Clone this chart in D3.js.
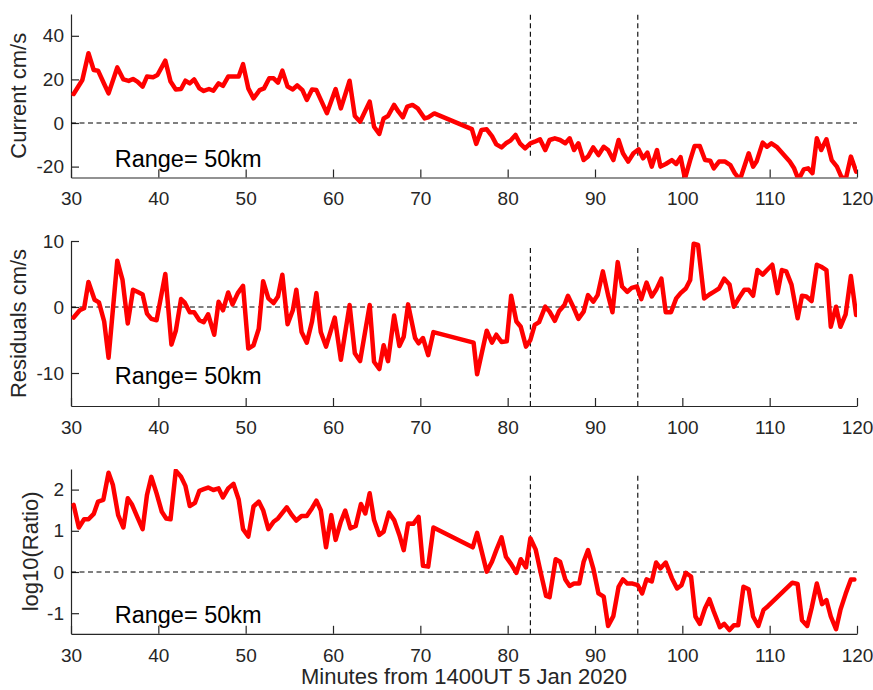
<!DOCTYPE html>
<html>
<head>
<meta charset="utf-8">
<script src="https://cdn.jsdelivr.net/npm/d3@7"></script>
<style>
body { margin: 0; background: #fff; }
svg { display: block; }
</style>
</head>
<body>
<div id="chart"></div>
<script>
// minutes after 1400UT
var curTime = [30.3, 31.3, 32.0, 32.6, 33.1, 33.8, 34.3, 35.3, 36.0, 36.6,
	37.1, 37.6, 38.2, 38.7, 39.4, 39.9, 40.8, 41.4, 42.0, 42.6,
	43.1, 43.6, 44.1, 44.7, 45.2, 45.8, 46.3, 46.9, 47.4, 48.0,
	48.6, 49.2, 49.7, 50.3, 50.9, 51.6, 52.1, 52.7, 53.2, 53.7,
	54.2, 54.8, 55.4, 55.9, 56.5, 57.0, 57.6, 58.1, 58.7, 59.3,
	60.3, 60.9, 61.9, 62.5, 63.1, 64.2, 64.7, 65.3, 65.8, 66.3,
	67.0, 67.5, 68.0, 68.5, 69.1, 69.7, 70.5, 70.9, 71.6, 75.9,
	76.4, 77.0, 77.6, 78.2, 78.7, 79.3, 79.8, 80.3, 80.9, 81.4,
	82.0, 82.6, 83.1, 83.7, 84.3, 84.8, 85.4, 86.0, 86.6, 87.1,
	87.6, 88.1, 88.7, 89.2, 89.8, 90.4, 91.0, 91.5, 92.1, 92.7,
	93.2, 93.8, 94.4, 95.0, 95.5, 96.0, 96.5, 97.1, 97.5, 98.1,
	98.8, 99.3, 99.8, 100.3, 100.9, 101.4, 102.0, 102.6, 103.2, 103.6,
	104.2, 104.9, 105.5, 106.0, 106.6, 107.6, 108.1, 108.5, 109.2, 109.7,
	110.2, 110.8, 112.3, 112.8, 113.3, 113.9, 114.4, 114.9, 115.4, 115.9,
	116.5, 117.1, 117.7, 118.2, 118.7, 119.3, 119.9];
var curVal = [13.3, 19.7, 32, 24.3, 24, 17.9, 13.6, 25.5, 20, 19.3,
	20.2, 19, 16.7, 21.3, 21, 22, 28.6, 19, 15.4, 15.6,
	19.4, 18.2, 20, 15.9, 14.7, 15.6, 14.8, 18.2, 17, 21.3,
	21.3, 21.3, 27, 15.9, 11.3, 15.1, 15.9, 20.5, 20.5, 18.5,
	24, 16.7, 15.4, 17.3, 15.1, 10.6, 15.4, 15.1, 9.8, 4.5,
	15.6, 6.7, 19.4, 3.2, 0.6, 9.8, -1.7, -5, 2.1, 3.2,
	8.3, 5.2, 2.6, 7.5, 8.3, 6.7, 2.1, 2.6, 4.4, -2.8,
	-9.6, -3.2, -2.9, -6, -9.8, -11.2, -9.3, -8.1, -5.5, -9.3,
	-11.6, -9.3, -8.6, -7.5, -12.4, -7.8, -7, -7.8, -9.3, -7,
	-12.4, -9.3, -17, -15.4, -11.2, -14.7, -10.9, -12.4, -17, -7.8,
	-13.9, -17.7, -13.9, -12.1, -16.2, -13.6, -20, -12.4, -20, -18.8,
	-17, -18.8, -15.7, -25.5, -17, -10.6, -10.6, -17, -17.3, -20.8,
	-17.7, -17.7, -19.3, -23, -26, -13.9, -20, -17.7, -9, -10.9,
	-9.3, -10.9, -17.7, -20.8, -26, -21.3, -20.8, -23, -7, -12.4,
	-7.5, -17, -20, -24.6, -26, -15.4, -22.3];

var resTime = [30.3, 31.0, 31.5, 32.0, 32.7, 33.2, 33.8, 34.3, 35.3, 35.9,
	36.5, 37.1, 37.6, 38.2, 38.7, 39.2, 39.8, 40.8, 41.5, 42.0,
	42.6, 43.0, 43.6, 44.1, 44.7, 45.2, 45.7, 46.4, 46.9, 47.4,
	48.0, 48.5, 49.1, 49.7, 50.3, 50.9, 51.5, 52.0, 52.6, 53.2,
	53.7, 54.2, 54.8, 55.4, 55.8, 56.4, 57.0, 57.6, 58.1, 58.6,
	59.2, 60.2, 60.9, 61.9, 62.5, 63.1, 64.2, 64.7, 65.3, 65.8,
	66.3, 67.0, 67.6, 68.1, 68.6, 69.4, 69.8, 70.3, 70.9, 71.5,
	76.1, 76.5, 77.6, 78.2, 78.7, 79.3, 79.9, 80.4, 81.0, 81.5,
	82.1, 82.6, 83.1, 83.6, 84.3, 84.8, 85.4, 85.9, 86.5, 86.9,
	87.5, 88.1, 88.7, 89.2, 89.8, 90.3, 90.9, 91.5, 92.0, 92.6,
	93.1, 93.7, 94.2, 94.8, 95.3, 95.9, 96.5, 97.0, 97.6, 98.1,
	98.7, 99.3, 99.8, 100.4, 100.9, 101.3, 101.8, 102.5, 103.1, 103.6,
	104.2, 104.8, 105.4, 105.9, 106.5, 107.1, 107.6, 108.1, 108.6, 109.2,
	109.7, 110.3, 110.9, 111.4, 111.9, 112.5, 113.2, 113.7, 114.2, 114.8,
	115.4, 115.9, 116.5, 117.0, 117.6, 118.1, 118.7, 119.3, 119.9];
var resVal = [-1.6, -0.5, -0.2, 3.8, 1.1, 0.7, -2.2, -7.7, 7.0, 4.1,
	-2.5, 2.6, 2.3, 1.9, -1.0, -1.8, -2.0, 5.0, -5.7, -3.6,
	1.2, 0.7, -0.8, -0.8, -2.0, -2.3, -1.1, -4.2, 0.8, -0.5,
	2.2, 0.4, 2.1, 3.2, -6.3, -5.8, -3.3, 3.9, 1.3, 0.6,
	1.6, 4.9, -2.6, -0.5, 2.6, -3.8, -5.4, -2.2, 2.1, -3.8,
	-6.0, -1.6, -8.0, 0.3, -7.0, -8.2, 0.3, -8.3, -9.4, -5.8,
	-8.2, -1.3, -5.9, -4.5, 0.4, -4.7, -5.5, -4.7, -7.3, -3.8,
	-5.4, -10.2, -3.6, -5.4, -4.2, -5.3, -5.2, 1.7, -2.2, -3.0,
	-6.0, -5.0, -2.7, -2.3, 0.05, -0.7, -2.1, -0.6, 0.3, 1.7,
	0.05, -1.8, -0.7, 1.8, 0.8, 1.8, 5.4, 1.8, -0.8, 6.8,
	3.1, 2.3, 2.9, 3.1, 1.2, 3.7, 1.6, 2.6, 4.3, -0.8,
	-0.8, 1.3, 2.1, 2.8, 4.1, 9.6, 9.4, 1.3, 1.9, 2.3,
	2.8, 4.3, 3.4, 0.05, 1.4, 2.6, 2.6, 1.7, 5.6, 4.9,
	5.6, 6.4, 2.1, 5.6, 5.4, 3.4, -1.7, 1.7, 1.6, 0.9,
	6.4, 6.1, 5.6, -3.0, 0.05, -3.0, -1.1, 4.7, -1.2];

var ratTime = [30.3, 30.9, 31.5, 32.0, 32.6, 33.1, 33.7, 34.3, 34.8, 35.4,
	36.0, 36.5, 37.0, 37.6, 38.2, 38.7, 39.2, 39.8, 40.4, 40.9,
	41.4, 42.0, 42.6, 43.1, 43.6, 44.2, 44.7, 45.2, 45.7, 46.3,
	46.9, 47.4, 48.0, 48.6, 49.2, 49.7, 50.3, 50.9, 51.5, 52.0,
	52.6, 53.2, 53.7, 54.7, 55.3, 55.8, 56.4, 57.0, 57.6, 58.1,
	58.6, 59.2, 59.8, 60.3, 60.9, 61.4, 62.0, 62.6, 63.2, 63.7,
	64.2, 64.7, 65.3, 65.8, 66.4, 67.0, 67.6, 68.1, 68.6, 69.2,
	69.8, 70.3, 70.9, 71.5, 76.0, 76.5, 77.6, 78.2, 78.7, 79.3,
	79.8, 80.4, 81.0, 81.5, 82.1, 82.6, 83.2, 83.8, 84.4, 84.8,
	85.5, 86.0, 86.6, 87.1, 87.6, 88.2, 88.7, 89.2, 89.8, 90.4,
	91.0, 91.5, 92.1, 92.7, 93.2, 93.7, 94.3, 94.9, 95.4, 95.9,
	96.5, 97.0, 97.5, 98.1, 98.8, 99.4, 99.9, 100.4, 101.0, 101.5,
	102.0, 102.6, 103.1, 103.6, 104.3, 104.8, 105.4, 105.9, 106.4, 107.0,
	107.6, 108.1, 108.7, 109.3, 109.8, 112.6, 113.2, 113.7, 114.3, 114.8,
	115.4, 116.0, 116.5, 117.0, 117.6, 118.1, 118.7, 119.3, 119.7];
var ratVal = [1.63, 1.08, 1.28, 1.28, 1.41, 1.71, 1.75, 2.41, 2.11, 1.38,
	1.08, 1.79, 1.63, 1.33, 1.04, 1.87, 2.31, 1.91, 1.46, 1.30,
	1.28, 2.46, 2.31, 2.09, 1.60, 1.68, 1.97, 2.01, 2.05, 1.99,
	2.03, 1.81, 2.03, 2.14, 1.76, 1.04, 0.86, 1.59, 1.71, 1.50,
	1.04, 1.22, 1.30, 1.57, 1.38, 1.25, 1.36, 1.36, 1.55, 1.73,
	1.50, 0.60, 1.38, 0.78, 1.22, 1.49, 1.06, 1.12, 1.65, 1.42,
	1.91, 1.26, 0.90, 0.98, 1.44, 1.26, 0.90, 0.53, 1.18, 1.17,
	1.34, 0.15, 0.13, 1.08, 0.60, 0.95, 0.01, 0.25, 0.53, 0.84,
	0.37, 0.19, -0.02, 0.31, 0.11, 0.82, 0.55, -0.03, -0.58, -0.61,
	0.31, 0.25, -0.18, -0.34, -0.28, -0.28, 0.25, 0.53, 0.09, -0.52,
	-0.60, -1.31, -1.07, -0.36, -0.18, -0.28, -0.28, -0.32, -0.52, -0.18,
	-0.23, 0.23, 0.09, 0.23, -0.15, -0.40, -0.32, -0.02, -0.11, -1.08,
	-1.26, -0.88, -0.66, -0.96, -1.34, -1.26, -1.41, -1.29, -1.29, -0.36,
	-0.42, -1.08, -1.31, -0.92, -0.83, -0.26, -0.29, -1.17, -1.31, -0.88,
	-0.28, -0.78, -0.68, -1.08, -1.39, -0.92, -0.53, -0.18, -0.18];

var panelLabels = ['Current cm/s', 'Residuals cm/s', 'log10(Ratio)'];
var panelDomains = [[-25, 50], [-15, 10], [-1.5, 2.5]];
var panelTicks = [[-20, 0, 20, 40], [-10, 0, 10], [-1, 0, 1, 2]];
var xTicks = [30, 40, 50, 60, 70, 80, 90, 100, 110, 120];
var eventTimes = [82.6, 94.9];
// vertical extent of the event markers in each panel
var eventSpans = [[-15, 50], [-15, 9], [-1.5, 2.4]];
var rangeText = 'Range= 50km';
var rangeTextPos = [[35, -20], [35, -11.6], [35, -1.23]];
var xLabel = 'Minutes from 1400UT 5 Jan 2020';

var width = 873, height = 690;
var plotLeft = 71, plotRight = 857;
var panelBox = [[14, 177.5], [241, 406], [469, 633.8]];
var ylabelX = [26, 26, 38];
var axisColor = '#262626';
var fontFam = '"Liberation Sans", Arial, Helvetica, sans-serif';

// plain hyphen minus like the original, no trailing .0
function tickFmt(d) {
	return String(d);
}

var svg = d3.select('#chart')
	.append('svg')
	.attr('width', width)
	.attr('height', height);

var xScale = d3.scaleLinear()
	.domain([30, 120])
	.range([plotLeft, plotRight]);

var series = [
	d3.zip(curTime, curVal),
	d3.zip(resTime, resVal),
	d3.zip(ratTime, ratVal)
];

series.forEach(function (data, i) {
	var top = panelBox[i][0], bottom = panelBox[i][1];
	var yScale = d3.scaleLinear()
		.domain(panelDomains[i])
		.range([bottom, top]);

	var g = svg.append('g').attr('class', 'panel' + i);

	g.append('clipPath')
		.attr('id', 'clip' + i)
		.append('rect')
		.attr('x', plotLeft)
		.attr('y', top)
		.attr('width', plotRight - plotLeft)
		.attr('height', bottom - top);

	// axes, box off, ticks pointing in
	var xAxis = g.append('g')
		.attr('transform', 'translate(0,' + bottom + ')')
		.call(d3.axisBottom(xScale).tickValues(xTicks).tickFormat(tickFmt)
			.tickSize(-8).tickSizeOuter(0).tickPadding(14.5));
	var yAxis = g.append('g')
		.attr('transform', 'translate(' + plotLeft + ',0)')
		.call(d3.axisLeft(yScale).tickValues(panelTicks[i]).tickFormat(tickFmt)
			.tickSize(-8).tickSizeOuter(0).tickPadding(7));

	[xAxis, yAxis].forEach(function (ax) {
		ax.attr('font-family', fontFam).attr('font-size', 19);
		ax.select('.domain').attr('stroke', axisColor).attr('stroke-width', 1.2);
		ax.selectAll('.tick line').attr('stroke', axisColor).attr('stroke-width', 1.2);
		ax.selectAll('.tick text').attr('fill', axisColor);
	});

	// zero line
	g.append('line')
		.attr('x1', xScale(30))
		.attr('x2', xScale(120))
		.attr('y1', yScale(0))
		.attr('y2', yScale(0))
		.attr('stroke', '#000')
		.attr('stroke-width', 1.1)
		.attr('stroke-dasharray', '5,3.5');

	// event markers
	g.selectAll('.event')
		.data(eventTimes)
		.enter()
		.append('line')
		.attr('class', 'event')
		.attr('x1', function (d) { return xScale(d); })
		.attr('x2', function (d) { return xScale(d); })
		.attr('y1', yScale(eventSpans[i][0]))
		.attr('y2', yScale(eventSpans[i][1]))
		.attr('stroke', '#000')
		.attr('stroke-width', 1.1)
		.attr('stroke-dasharray', '5,3.5');

	var line = d3.line()
		.x(function (d) { return xScale(d[0]); })
		.y(function (d) { return yScale(d[1]); });

	g.append('path')
		.datum(data)
		.attr('clip-path', 'url(#clip' + i + ')')
		.attr('d', line)
		.attr('fill', 'none')
		.attr('stroke', '#ff0000')
		.attr('stroke-width', 4.5)
		.attr('stroke-linejoin', 'round')
		.attr('stroke-linecap', 'round');

	g.append('text')
		.attr('x', xScale(rangeTextPos[i][0]))
		.attr('y', yScale(rangeTextPos[i][1]))
		.attr('font-family', fontFam)
		.attr('font-size', 23.5)
		.attr('fill', '#000')
		.text(rangeText);

	g.append('text')
		.attr('transform', 'translate(' + ylabelX[i] + ',' + ((top + bottom) / 2) + ') rotate(-90)')
		.attr('text-anchor', 'middle')
		.attr('font-family', fontFam)
		.attr('font-size', 22)
		.attr('fill', axisColor)
		.text(panelLabels[i]);
});

svg.append('text')
	.attr('x', (plotLeft + plotRight) / 2)
	.attr('y', 684)
	.attr('text-anchor', 'middle')
	.attr('font-family', fontFam)
	.attr('font-size', 22)
	.attr('fill', axisColor)
	.text(xLabel);
</script>
</body>
</html>
